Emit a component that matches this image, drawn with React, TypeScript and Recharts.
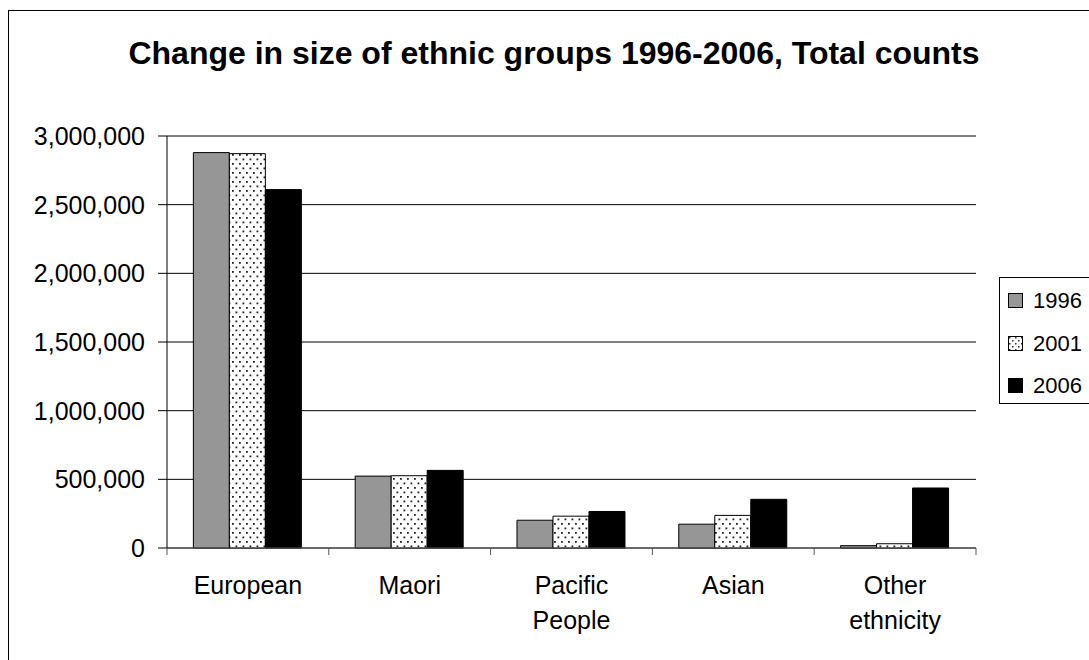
import React from 'react';
import { BarChart, Bar, XAxis, YAxis, CartesianGrid } from 'recharts';

const categories = ['European', 'Maori', 'Pacific People', 'Asian', 'Other ethnicity'];
const values1996 = [2879085, 523371, 202233, 173502, 17000];
const values2001 = [2871432, 526281, 231798, 237459, 31000];
const values2006 = [2609589, 565329, 265974, 354552, 437000];
const yTicks = [0, 500000, 1000000, 1500000, 2000000, 2500000, 3000000];
const seriesYears = ['1996', '2001', '2006'];
const titleText = 'Change in size of ethnic groups 1996-2006, Total counts';

const data = categories.map((name, i) => ({
  name,
  y1996: values1996[i],
  y2001: values2001[i],
  y2006: values2006[i],
}));

const FONT = '"Liberation Sans", Arial, sans-serif';
const GRAY = '#969696';

function CategoryTick(props: any) {
  const { x, y, payload, index } = props;
  const half = payload && payload.offset ? payload.offset : 80.9;
  const lines = String(payload.value).split(' ');
  const isLast = index === categories.length - 1;
  return (
    <g>
      <line x1={x - half} x2={x - half} y1={y} y2={y + 7} stroke="#555" />
      {isLast && <line x1={x + half} x2={x + half} y1={y} y2={y + 7} stroke="#555" />}
      <text x={x} y={y} textAnchor="middle" fontSize={25} fontFamily={FONT} fill="#000">
        {lines.map((l, i) => (
          <tspan key={i} x={x} y={y + 46 + i * 34.5}>
            {l}
          </tspan>
        ))}
      </text>
    </g>
  );
}

const fmt = (v: number) => v.toLocaleString('en-US');

function Swatch({ year, x, y }: { year: string; x: number; y: number }) {
  if (year === '2001') {
    return <rect x={x} y={y} width={14} height={14} fill="url(#dotsLegend)" stroke="#000" />;
  }
  return <rect x={x} y={y} width={14} height={14} fill={year === '1996' ? GRAY : '#000'} stroke="#000" />;
}

export default function App() {
  const legendCenters = [300, 343, 385];
  return (
    <div
      style={{
        position: 'absolute',
        left: 8,
        top: 10,
        width: 1081,
        height: 650,
        borderLeft: '1px solid #000',
        borderTop: '1px solid #000',
        overflow: 'hidden',
        background: '#fff',
      }}
    >
      <div style={{ position: 'absolute', left: -9, top: -11, width: 1089, height: 660 }}>
        <BarChart
          width={1089}
          height={660}
          data={data}
          margin={{ top: 136, right: 113, left: 0, bottom: 32 }}
          barCategoryGap="16.3%"
          barGap={0}
        >
          <defs>
            <pattern id="dots" width="7" height="9" patternUnits="userSpaceOnUse">
              <rect width="7" height="9" fill="#fff" />
              <rect x="1" y="1" width="1.8" height="1.8" fill="#222" />
              <rect x="4.5" y="5.5" width="1.8" height="1.8" fill="#222" />
            </pattern>
          </defs>
          <CartesianGrid vertical={false} stroke="#000" />
          <XAxis
            dataKey="name"
            height={80}
            interval={0}
            tickLine={false}
            tickSize={0}
            tickMargin={0}
            axisLine={{ stroke: '#555' }}
            tick={<CategoryTick />}
          />
          <XAxis
            xAxisId="top"
            dataKey="name"
            orientation="top"
            height={0}
            tick={false}
            tickLine={false}
            axisLine={{ stroke: '#808080' }}
          />
          <YAxis
            width={167}
            domain={[0, 3000000]}
            ticks={yTicks}
            interval={0}
            tickFormatter={fmt}
            tickSize={9}
            tickMargin={13}
            axisLine={{ stroke: '#000' }}
            tickLine={{ stroke: '#000' }}
            tick={{ fontSize: 25, fill: '#000', fontFamily: FONT }}
          />
          <YAxis
            yAxisId="right"
            orientation="right"
            width={0}
            domain={[0, 3000000]}
            tick={false}
            tickLine={false}
            axisLine={{ stroke: '#808080' }}
          />
          <Bar dataKey="y1996" fill={GRAY} stroke="#000" strokeWidth={1} isAnimationActive={false} />
          <Bar dataKey="y2001" fill="url(#dots)" stroke="#000" strokeWidth={1} isAnimationActive={false} />
          <Bar dataKey="y2006" fill="#000" stroke="#000" strokeWidth={1} isAnimationActive={false} />
        </BarChart>
        <svg
          width={1089}
          height={660}
          style={{ position: 'absolute', left: 0, top: 0, pointerEvents: 'none' }}
        >
          <defs>
            <pattern id="dotsLegend" width="6" height="6" patternUnits="userSpaceOnUse">
              <rect width="6" height="6" fill="#fff" />
              <rect x="1" y="1" width="1.5" height="1.5" fill="#333" />
              <rect x="4" y="4" width="1.5" height="1.5" fill="#333" />
            </pattern>
          </defs>
          <text x={554} y={63.5} textAnchor="middle" fontSize={32} fontWeight="bold" fontFamily={FONT} fill="#000">
            {titleText}
          </text>
          <rect x={999.5} y={277.5} width={200} height={126} fill="#fff" stroke="#000" />
          {seriesYears.map((yr, i) => (
            <g key={yr}>
              <Swatch year={yr} x={1008.5} y={legendCenters[i] - 6.5} />
              <text x={1033} y={legendCenters[i] + 8} fontSize={22} fontFamily={FONT} fill="#000">
                {yr}
              </text>
            </g>
          ))}
        </svg>
      </div>
    </div>
  );
}
